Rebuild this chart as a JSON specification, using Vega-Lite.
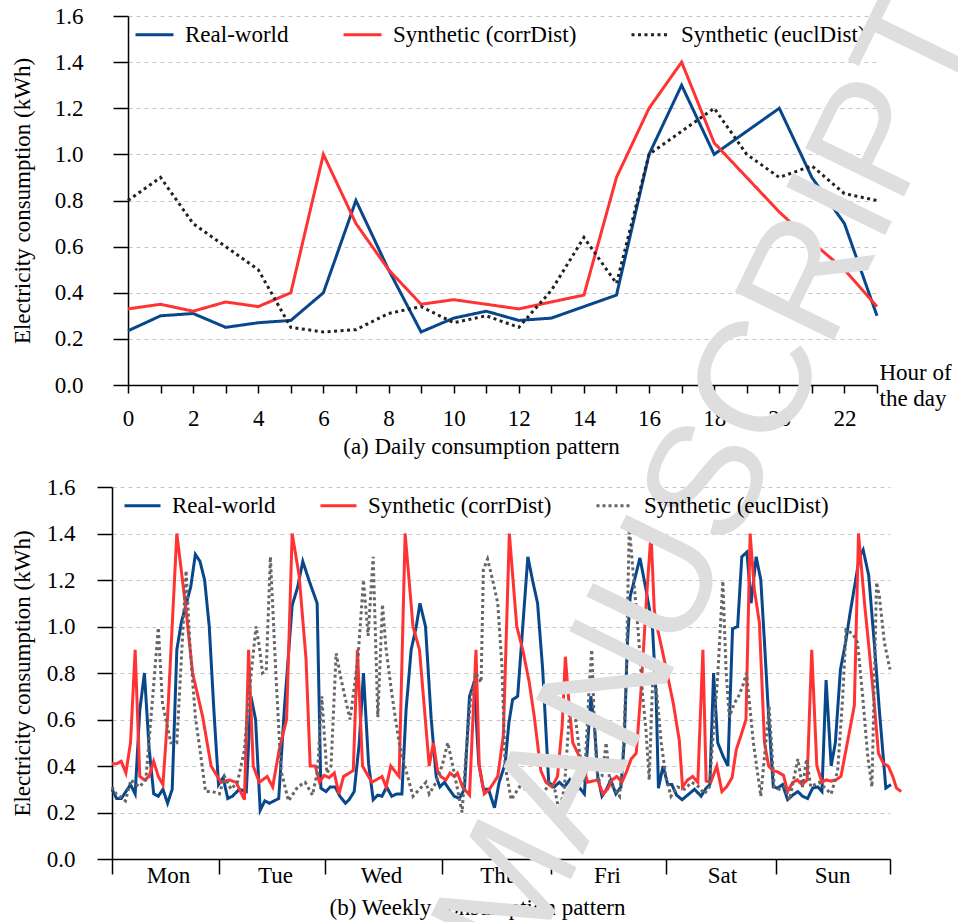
{
  "$schema": "https://vega.github.io/schema/vega-lite/v6.json",
  "background": "white",
  "padding": {"left": 11, "top": -32, "right": -58, "bottom": -67},
  "config": {
    "font": "Liberation Serif, Times New Roman, serif",
    "view": {"stroke": null},
    "axis": {"labelFont": "Liberation Serif, Times New Roman, serif", "labelFontSize": 23, "labelColor": "black", "titleFont": "Liberation Serif, Times New Roman, serif", "titleFontSize": 23, "titleFontWeight": "normal", "titleColor": "black", "domainColor": "black", "tickColor": "black", "domainWidth": 1.5, "tickWidth": 1.5},
    "legend": {"orient": "none", "direction": "horizontal", "title": null, "symbolType": "stroke", "symbolStrokeWidth": 3, "labelFont": "Liberation Serif, Times New Roman, serif", "labelFontSize": 23, "labelColor": "black", "labelOffset": 10, "labelLimit": 400},
    "title": {"font": "Liberation Serif, Times New Roman, serif", "fontSize": 23, "fontWeight": "normal", "color": "black"}
  },
  "datasets": {
    "daily": [
      {"series": "Real-world", "hour": 0, "kwh": 0.235}, {"series": "Real-world", "hour": 1, "kwh": 0.30}, {"series": "Real-world", "hour": 2, "kwh": 0.31}, {"series": "Real-world", "hour": 3, "kwh": 0.25}, {"series": "Real-world", "hour": 4, "kwh": 0.27}, {"series": "Real-world", "hour": 5, "kwh": 0.28}, {"series": "Real-world", "hour": 6, "kwh": 0.40}, {"series": "Real-world", "hour": 7, "kwh": 0.80}, {"series": "Real-world", "hour": 8, "kwh": 0.50}, {"series": "Real-world", "hour": 9, "kwh": 0.23}, {"series": "Real-world", "hour": 10, "kwh": 0.29}, {"series": "Real-world", "hour": 11, "kwh": 0.32}, {"series": "Real-world", "hour": 12, "kwh": 0.28}, {"series": "Real-world", "hour": 13, "kwh": 0.29}, {"series": "Real-world", "hour": 14, "kwh": 0.34}, {"series": "Real-world", "hour": 15, "kwh": 0.39}, {"series": "Real-world", "hour": 16, "kwh": 1.0}, {"series": "Real-world", "hour": 17, "kwh": 1.30}, {"series": "Real-world", "hour": 18, "kwh": 1.0}, {"series": "Real-world", "hour": 19, "kwh": 1.10}, {"series": "Real-world", "hour": 20, "kwh": 1.20}, {"series": "Real-world", "hour": 21, "kwh": 0.90}, {"series": "Real-world", "hour": 22, "kwh": 0.70}, {"series": "Real-world", "hour": 23, "kwh": 0.30},
      {"series": "Synthetic (corrDist)", "hour": 0, "kwh": 0.33}, {"series": "Synthetic (corrDist)", "hour": 1, "kwh": 0.35}, {"series": "Synthetic (corrDist)", "hour": 2, "kwh": 0.32}, {"series": "Synthetic (corrDist)", "hour": 3, "kwh": 0.36}, {"series": "Synthetic (corrDist)", "hour": 4, "kwh": 0.34}, {"series": "Synthetic (corrDist)", "hour": 5, "kwh": 0.40}, {"series": "Synthetic (corrDist)", "hour": 6, "kwh": 1.0}, {"series": "Synthetic (corrDist)", "hour": 7, "kwh": 0.70}, {"series": "Synthetic (corrDist)", "hour": 8, "kwh": 0.50}, {"series": "Synthetic (corrDist)", "hour": 9, "kwh": 0.35}, {"series": "Synthetic (corrDist)", "hour": 10, "kwh": 0.37}, {"series": "Synthetic (corrDist)", "hour": 11, "kwh": 0.35}, {"series": "Synthetic (corrDist)", "hour": 12, "kwh": 0.33}, {"series": "Synthetic (corrDist)", "hour": 13, "kwh": 0.36}, {"series": "Synthetic (corrDist)", "hour": 14, "kwh": 0.39}, {"series": "Synthetic (corrDist)", "hour": 15, "kwh": 0.90}, {"series": "Synthetic (corrDist)", "hour": 16, "kwh": 1.20}, {"series": "Synthetic (corrDist)", "hour": 17, "kwh": 1.40}, {"series": "Synthetic (corrDist)", "hour": 18, "kwh": 1.05}, {"series": "Synthetic (corrDist)", "hour": 19, "kwh": 0.90}, {"series": "Synthetic (corrDist)", "hour": 20, "kwh": 0.75}, {"series": "Synthetic (corrDist)", "hour": 21, "kwh": 0.62}, {"series": "Synthetic (corrDist)", "hour": 22, "kwh": 0.50}, {"series": "Synthetic (corrDist)", "hour": 23, "kwh": 0.34},
      {"series": "Synthetic (euclDist)", "hour": 0, "kwh": 0.80}, {"series": "Synthetic (euclDist)", "hour": 1, "kwh": 0.90}, {"series": "Synthetic (euclDist)", "hour": 2, "kwh": 0.70}, {"series": "Synthetic (euclDist)", "hour": 3, "kwh": 0.60}, {"series": "Synthetic (euclDist)", "hour": 4, "kwh": 0.50}, {"series": "Synthetic (euclDist)", "hour": 5, "kwh": 0.25}, {"series": "Synthetic (euclDist)", "hour": 6, "kwh": 0.23}, {"series": "Synthetic (euclDist)", "hour": 7, "kwh": 0.24}, {"series": "Synthetic (euclDist)", "hour": 8, "kwh": 0.31}, {"series": "Synthetic (euclDist)", "hour": 9, "kwh": 0.34}, {"series": "Synthetic (euclDist)", "hour": 10, "kwh": 0.27}, {"series": "Synthetic (euclDist)", "hour": 11, "kwh": 0.30}, {"series": "Synthetic (euclDist)", "hour": 12, "kwh": 0.25}, {"series": "Synthetic (euclDist)", "hour": 13, "kwh": 0.41}, {"series": "Synthetic (euclDist)", "hour": 14, "kwh": 0.64}, {"series": "Synthetic (euclDist)", "hour": 15, "kwh": 0.44}, {"series": "Synthetic (euclDist)", "hour": 16, "kwh": 1.0}, {"series": "Synthetic (euclDist)", "hour": 17, "kwh": 1.10}, {"series": "Synthetic (euclDist)", "hour": 18, "kwh": 1.20}, {"series": "Synthetic (euclDist)", "hour": 19, "kwh": 1.0}, {"series": "Synthetic (euclDist)", "hour": 20, "kwh": 0.90}, {"series": "Synthetic (euclDist)", "hour": 21, "kwh": 0.95}, {"series": "Synthetic (euclDist)", "hour": 22, "kwh": 0.83}, {"series": "Synthetic (euclDist)", "hour": 23, "kwh": 0.80}
    ],
    "weekly": [
      {"series": "Real-world", "hour": 0, "kwh": 0.30}, {"series": "Real-world", "hour": 1, "kwh": 0.26}, {"series": "Real-world", "hour": 2, "kwh": 0.26}, {"series": "Real-world", "hour": 4, "kwh": 0.32}, {"series": "Real-world", "hour": 5, "kwh": 0.28}, {"series": "Real-world", "hour": 6, "kwh": 0.64}, {"series": "Real-world", "hour": 7, "kwh": 0.80}, {"series": "Real-world", "hour": 8, "kwh": 0.48}, {"series": "Real-world", "hour": 9, "kwh": 0.28}, {"series": "Real-world", "hour": 10, "kwh": 0.27}, {"series": "Real-world", "hour": 11, "kwh": 0.30}, {"series": "Real-world", "hour": 12, "kwh": 0.24}, {"series": "Real-world", "hour": 13, "kwh": 0.30}, {"series": "Real-world", "hour": 14, "kwh": 0.90}, {"series": "Real-world", "hour": 15, "kwh": 1.02}, {"series": "Real-world", "hour": 17, "kwh": 1.17}, {"series": "Real-world", "hour": 18, "kwh": 1.31}, {"series": "Real-world", "hour": 19, "kwh": 1.28}, {"series": "Real-world", "hour": 20, "kwh": 1.20}, {"series": "Real-world", "hour": 21, "kwh": 1.00}, {"series": "Real-world", "hour": 22, "kwh": 0.64}, {"series": "Real-world", "hour": 23, "kwh": 0.32}, {"series": "Real-world", "hour": 24, "kwh": 0.35}, {"series": "Real-world", "hour": 25, "kwh": 0.26}, {"series": "Real-world", "hour": 26, "kwh": 0.27}, {"series": "Real-world", "hour": 27.5, "kwh": 0.30}, {"series": "Real-world", "hour": 29, "kwh": 0.29}, {"series": "Real-world", "hour": 30, "kwh": 0.70}, {"series": "Real-world", "hour": 31, "kwh": 0.60}, {"series": "Real-world", "hour": 32, "kwh": 0.21}, {"series": "Real-world", "hour": 33, "kwh": 0.25}, {"series": "Real-world", "hour": 34, "kwh": 0.24}, {"series": "Real-world", "hour": 36, "kwh": 0.26}, {"series": "Real-world", "hour": 37.2, "kwh": 0.64}, {"series": "Real-world", "hour": 38.9, "kwh": 1.09}, {"series": "Real-world", "hour": 40.1, "kwh": 1.17}, {"series": "Real-world", "hour": 41.2, "kwh": 1.28}, {"series": "Real-world", "hour": 42.6, "kwh": 1.195}, {"series": "Real-world", "hour": 44.3, "kwh": 1.10}, {"series": "Real-world", "hour": 45.1, "kwh": 0.305}, {"series": "Real-world", "hour": 46.2, "kwh": 0.29}, {"series": "Real-world", "hour": 47.1, "kwh": 0.31}, {"series": "Real-world", "hour": 48.2, "kwh": 0.31}, {"series": "Real-world", "hour": 49.2, "kwh": 0.27}, {"series": "Real-world", "hour": 50.4, "kwh": 0.24}, {"series": "Real-world", "hour": 51.2, "kwh": 0.255}, {"series": "Real-world", "hour": 52.3, "kwh": 0.29}, {"series": "Real-world", "hour": 53.4, "kwh": 0.50}, {"series": "Real-world", "hour": 54.3, "kwh": 0.80}, {"series": "Real-world", "hour": 55.4, "kwh": 0.41}, {"series": "Real-world", "hour": 56.4, "kwh": 0.255}, {"series": "Real-world", "hour": 57.4, "kwh": 0.275}, {"series": "Real-world", "hour": 58.3, "kwh": 0.27}, {"series": "Real-world", "hour": 59.3, "kwh": 0.31}, {"series": "Real-world", "hour": 60.4, "kwh": 0.27}, {"series": "Real-world", "hour": 61.5, "kwh": 0.28}, {"series": "Real-world", "hour": 62.6, "kwh": 0.28}, {"series": "Real-world", "hour": 63.5, "kwh": 0.64}, {"series": "Real-world", "hour": 64.6, "kwh": 0.90}, {"series": "Real-world", "hour": 65.7, "kwh": 1.0}, {"series": "Real-world", "hour": 66.5, "kwh": 1.10}, {"series": "Real-world", "hour": 67.7, "kwh": 1.0}, {"series": "Real-world", "hour": 68.9, "kwh": 0.61}, {"series": "Real-world", "hour": 70, "kwh": 0.355}, {"series": "Real-world", "hour": 70.8, "kwh": 0.31}, {"series": "Real-world", "hour": 71.8, "kwh": 0.33}, {"series": "Real-world", "hour": 72.8, "kwh": 0.30}, {"series": "Real-world", "hour": 73.9, "kwh": 0.27}, {"series": "Real-world", "hour": 75, "kwh": 0.26}, {"series": "Real-world", "hour": 76.1, "kwh": 0.30}, {"series": "Real-world", "hour": 77.2, "kwh": 0.70}, {"series": "Real-world", "hour": 78.2, "kwh": 0.76}, {"series": "Real-world", "hour": 79.2, "kwh": 0.41}, {"series": "Real-world", "hour": 80.2, "kwh": 0.30}, {"series": "Real-world", "hour": 81.3, "kwh": 0.30}, {"series": "Real-world", "hour": 82.6, "kwh": 0.22}, {"series": "Real-world", "hour": 83.6, "kwh": 0.33}, {"series": "Real-world", "hour": 84.9, "kwh": 0.41}, {"series": "Real-world", "hour": 85.7, "kwh": 0.585}, {"series": "Real-world", "hour": 86.5, "kwh": 0.685}, {"series": "Real-world", "hour": 87.6, "kwh": 0.70}, {"series": "Real-world", "hour": 88.7, "kwh": 1.0}, {"series": "Real-world", "hour": 89.8, "kwh": 1.30}, {"series": "Real-world", "hour": 90.8, "kwh": 1.20}, {"series": "Real-world", "hour": 91.9, "kwh": 1.10}, {"series": "Real-world", "hour": 93, "kwh": 0.815}, {"series": "Real-world", "hour": 94.3, "kwh": 0.33}, {"series": "Real-world", "hour": 95.5, "kwh": 0.31}, {"series": "Real-world", "hour": 96.6, "kwh": 0.33}, {"series": "Real-world", "hour": 97.7, "kwh": 0.31}, {"series": "Real-world", "hour": 98.8, "kwh": 0.34}, {"series": "Real-world", "hour": 99.8, "kwh": 0.28}, {"series": "Real-world", "hour": 100.8, "kwh": 0.31}, {"series": "Real-world", "hour": 102, "kwh": 0.28}, {"series": "Real-world", "hour": 103.4, "kwh": 0.70}, {"series": "Real-world", "hour": 104.2, "kwh": 0.57}, {"series": "Real-world", "hour": 104.9, "kwh": 0.355}, {"series": "Real-world", "hour": 105.8, "kwh": 0.27}, {"series": "Real-world", "hour": 106.8, "kwh": 0.30}, {"series": "Real-world", "hour": 107.7, "kwh": 0.34}, {"series": "Real-world", "hour": 108.8, "kwh": 0.28}, {"series": "Real-world", "hour": 109.9, "kwh": 0.31}, {"series": "Real-world", "hour": 110.6, "kwh": 0.50}, {"series": "Real-world", "hour": 111.3, "kwh": 0.93}, {"series": "Real-world", "hour": 111.9, "kwh": 1.13}, {"series": "Real-world", "hour": 113.2, "kwh": 1.23}, {"series": "Real-world", "hour": 114, "kwh": 1.295}, {"series": "Real-world", "hour": 115.3, "kwh": 1.16}, {"series": "Real-world", "hour": 116.7, "kwh": 1.0}, {"series": "Real-world", "hour": 117.5, "kwh": 0.70}, {"series": "Real-world", "hour": 118, "kwh": 0.305}, {"series": "Real-world", "hour": 119, "kwh": 0.40}, {"series": "Real-world", "hour": 120, "kwh": 0.32}, {"series": "Real-world", "hour": 120.9, "kwh": 0.32}, {"series": "Real-world", "hour": 121.9, "kwh": 0.275}, {"series": "Real-world", "hour": 123.1, "kwh": 0.255}, {"series": "Real-world", "hour": 124.3, "kwh": 0.275}, {"series": "Real-world", "hour": 125.8, "kwh": 0.30}, {"series": "Real-world", "hour": 127.2, "kwh": 0.27}, {"series": "Real-world", "hour": 128.3, "kwh": 0.305}, {"series": "Real-world", "hour": 129.1, "kwh": 0.32}, {"series": "Real-world", "hour": 129.9, "kwh": 0.80}, {"series": "Real-world", "hour": 130.8, "kwh": 0.50}, {"series": "Real-world", "hour": 132, "kwh": 0.44}, {"series": "Real-world", "hour": 133, "kwh": 0.40}, {"series": "Real-world", "hour": 134, "kwh": 0.99}, {"series": "Real-world", "hour": 135.1, "kwh": 1.0}, {"series": "Real-world", "hour": 136, "kwh": 1.30}, {"series": "Real-world", "hour": 137.1, "kwh": 1.32}, {"series": "Real-world", "hour": 138, "kwh": 1.10}, {"series": "Real-world", "hour": 139.1, "kwh": 1.30}, {"series": "Real-world", "hour": 140.1, "kwh": 1.20}, {"series": "Real-world", "hour": 140.9, "kwh": 0.93}, {"series": "Real-world", "hour": 141.8, "kwh": 0.61}, {"series": "Real-world", "hour": 142.8, "kwh": 0.31}, {"series": "Real-world", "hour": 143.7, "kwh": 0.305}, {"series": "Real-world", "hour": 144.8, "kwh": 0.32}, {"series": "Real-world", "hour": 145.9, "kwh": 0.255}, {"series": "Real-world", "hour": 147, "kwh": 0.275}, {"series": "Real-world", "hour": 148.1, "kwh": 0.29}, {"series": "Real-world", "hour": 149.1, "kwh": 0.27}, {"series": "Real-world", "hour": 150.2, "kwh": 0.26}, {"series": "Real-world", "hour": 151.3, "kwh": 0.305}, {"series": "Real-world", "hour": 152.4, "kwh": 0.31}, {"series": "Real-world", "hour": 153.3, "kwh": 0.29}, {"series": "Real-world", "hour": 154.2, "kwh": 0.77}, {"series": "Real-world", "hour": 155.3, "kwh": 0.40}, {"series": "Real-world", "hour": 156.2, "kwh": 0.50}, {"series": "Real-world", "hour": 157.3, "kwh": 0.815}, {"series": "Real-world", "hour": 158.4, "kwh": 0.93}, {"series": "Real-world", "hour": 159.4, "kwh": 1.06}, {"series": "Real-world", "hour": 160.5, "kwh": 1.19}, {"series": "Real-world", "hour": 161.4, "kwh": 1.30}, {"series": "Real-world", "hour": 162.2, "kwh": 1.33}, {"series": "Real-world", "hour": 163.4, "kwh": 1.22}, {"series": "Real-world", "hour": 164.6, "kwh": 0.93}, {"series": "Real-world", "hour": 165.7, "kwh": 0.64}, {"series": "Real-world", "hour": 167.1, "kwh": 0.305}, {"series": "Real-world", "hour": 168.2, "kwh": 0.32},
      {"series": "Synthetic (corrDist)", "hour": 0, "kwh": 0.41}, {"series": "Synthetic (corrDist)", "hour": 1, "kwh": 0.41}, {"series": "Synthetic (corrDist)", "hour": 2, "kwh": 0.42}, {"series": "Synthetic (corrDist)", "hour": 3, "kwh": 0.37}, {"series": "Synthetic (corrDist)", "hour": 4, "kwh": 0.50}, {"series": "Synthetic (corrDist)", "hour": 5, "kwh": 0.90}, {"series": "Synthetic (corrDist)", "hour": 6, "kwh": 0.355}, {"series": "Synthetic (corrDist)", "hour": 7, "kwh": 0.34}, {"series": "Synthetic (corrDist)", "hour": 8, "kwh": 0.355}, {"series": "Synthetic (corrDist)", "hour": 9, "kwh": 0.42}, {"series": "Synthetic (corrDist)", "hour": 10, "kwh": 0.355}, {"series": "Synthetic (corrDist)", "hour": 11, "kwh": 0.32}, {"series": "Synthetic (corrDist)", "hour": 12, "kwh": 0.61}, {"series": "Synthetic (corrDist)", "hour": 14, "kwh": 1.40}, {"series": "Synthetic (corrDist)", "hour": 16, "kwh": 1.07}, {"series": "Synthetic (corrDist)", "hour": 17.4, "kwh": 0.80}, {"series": "Synthetic (corrDist)", "hour": 19.6, "kwh": 0.61}, {"series": "Synthetic (corrDist)", "hour": 21.4, "kwh": 0.40}, {"series": "Synthetic (corrDist)", "hour": 23.5, "kwh": 0.33}, {"series": "Synthetic (corrDist)", "hour": 25.3, "kwh": 0.34}, {"series": "Synthetic (corrDist)", "hour": 26.8, "kwh": 0.33}, {"series": "Synthetic (corrDist)", "hour": 28.6, "kwh": 0.255}, {"series": "Synthetic (corrDist)", "hour": 29.5, "kwh": 0.90}, {"series": "Synthetic (corrDist)", "hour": 30.5, "kwh": 0.40}, {"series": "Synthetic (corrDist)", "hour": 31.8, "kwh": 0.33}, {"series": "Synthetic (corrDist)", "hour": 33.5, "kwh": 0.355}, {"series": "Synthetic (corrDist)", "hour": 34.7, "kwh": 0.31}, {"series": "Synthetic (corrDist)", "hour": 36.1, "kwh": 0.47}, {"series": "Synthetic (corrDist)", "hour": 37.7, "kwh": 0.60}, {"series": "Synthetic (corrDist)", "hour": 38.9, "kwh": 1.40}, {"series": "Synthetic (corrDist)", "hour": 40.4, "kwh": 1.22}, {"series": "Synthetic (corrDist)", "hour": 41.9, "kwh": 0.86}, {"series": "Synthetic (corrDist)", "hour": 42.8, "kwh": 0.40}, {"series": "Synthetic (corrDist)", "hour": 43.9, "kwh": 0.40}, {"series": "Synthetic (corrDist)", "hour": 44.8, "kwh": 0.33}, {"series": "Synthetic (corrDist)", "hour": 45.8, "kwh": 0.36}, {"series": "Synthetic (corrDist)", "hour": 46.9, "kwh": 0.35}, {"series": "Synthetic (corrDist)", "hour": 48, "kwh": 0.37}, {"series": "Synthetic (corrDist)", "hour": 49, "kwh": 0.28}, {"series": "Synthetic (corrDist)", "hour": 50, "kwh": 0.355}, {"series": "Synthetic (corrDist)", "hour": 52.1, "kwh": 0.38}, {"series": "Synthetic (corrDist)", "hour": 53, "kwh": 0.90}, {"series": "Synthetic (corrDist)", "hour": 54.1, "kwh": 0.40}, {"series": "Synthetic (corrDist)", "hour": 56.1, "kwh": 0.33}, {"series": "Synthetic (corrDist)", "hour": 58.3, "kwh": 0.355}, {"series": "Synthetic (corrDist)", "hour": 59.2, "kwh": 0.31}, {"series": "Synthetic (corrDist)", "hour": 60.2, "kwh": 0.40}, {"series": "Synthetic (corrDist)", "hour": 62, "kwh": 0.355}, {"series": "Synthetic (corrDist)", "hour": 63.3, "kwh": 1.40}, {"series": "Synthetic (corrDist)", "hour": 65, "kwh": 1.0}, {"series": "Synthetic (corrDist)", "hour": 66.4, "kwh": 0.90}, {"series": "Synthetic (corrDist)", "hour": 68.5, "kwh": 0.40}, {"series": "Synthetic (corrDist)", "hour": 69.4, "kwh": 0.50}, {"series": "Synthetic (corrDist)", "hour": 70.3, "kwh": 0.38}, {"series": "Synthetic (corrDist)", "hour": 71, "kwh": 0.355}, {"series": "Synthetic (corrDist)", "hour": 72.1, "kwh": 0.34}, {"series": "Synthetic (corrDist)", "hour": 73, "kwh": 0.37}, {"series": "Synthetic (corrDist)", "hour": 73.9, "kwh": 0.355}, {"series": "Synthetic (corrDist)", "hour": 74.6, "kwh": 0.37}, {"series": "Synthetic (corrDist)", "hour": 75.7, "kwh": 0.31}, {"series": "Synthetic (corrDist)", "hour": 77.2, "kwh": 0.275}, {"series": "Synthetic (corrDist)", "hour": 78.6, "kwh": 0.90}, {"series": "Synthetic (corrDist)", "hour": 79.3, "kwh": 0.40}, {"series": "Synthetic (corrDist)", "hour": 80.4, "kwh": 0.28}, {"series": "Synthetic (corrDist)", "hour": 81.5, "kwh": 0.30}, {"series": "Synthetic (corrDist)", "hour": 83.3, "kwh": 0.355}, {"series": "Synthetic (corrDist)", "hour": 84.5, "kwh": 0.53}, {"series": "Synthetic (corrDist)", "hour": 85.8, "kwh": 1.40}, {"series": "Synthetic (corrDist)", "hour": 87.4, "kwh": 1.0}, {"series": "Synthetic (corrDist)", "hour": 88.7, "kwh": 0.90}, {"series": "Synthetic (corrDist)", "hour": 90.1, "kwh": 0.76}, {"series": "Synthetic (corrDist)", "hour": 91.2, "kwh": 0.61}, {"series": "Synthetic (corrDist)", "hour": 92.6, "kwh": 0.38}, {"series": "Synthetic (corrDist)", "hour": 93.7, "kwh": 0.33}, {"series": "Synthetic (corrDist)", "hour": 95, "kwh": 0.31}, {"series": "Synthetic (corrDist)", "hour": 96.2, "kwh": 0.355}, {"series": "Synthetic (corrDist)", "hour": 97.2, "kwh": 0.57}, {"series": "Synthetic (corrDist)", "hour": 97.9, "kwh": 0.87}, {"series": "Synthetic (corrDist)", "hour": 98.8, "kwh": 0.64}, {"series": "Synthetic (corrDist)", "hour": 99.5, "kwh": 0.50}, {"series": "Synthetic (corrDist)", "hour": 100.6, "kwh": 0.455}, {"series": "Synthetic (corrDist)", "hour": 101.6, "kwh": 0.41}, {"series": "Synthetic (corrDist)", "hour": 102.7, "kwh": 0.33}, {"series": "Synthetic (corrDist)", "hour": 104.9, "kwh": 0.34}, {"series": "Synthetic (corrDist)", "hour": 106, "kwh": 0.28}, {"series": "Synthetic (corrDist)", "hour": 107, "kwh": 0.30}, {"series": "Synthetic (corrDist)", "hour": 108, "kwh": 0.34}, {"series": "Synthetic (corrDist)", "hour": 109, "kwh": 0.355}, {"series": "Synthetic (corrDist)", "hour": 110.1, "kwh": 0.33}, {"series": "Synthetic (corrDist)", "hour": 111, "kwh": 0.37}, {"series": "Synthetic (corrDist)", "hour": 112.1, "kwh": 0.43}, {"series": "Synthetic (corrDist)", "hour": 113.2, "kwh": 0.455}, {"series": "Synthetic (corrDist)", "hour": 114.2, "kwh": 0.715}, {"series": "Synthetic (corrDist)", "hour": 115.5, "kwh": 1.145}, {"series": "Synthetic (corrDist)", "hour": 116.4, "kwh": 1.40}, {"series": "Synthetic (corrDist)", "hour": 117.1, "kwh": 1.07}, {"series": "Synthetic (corrDist)", "hour": 117.8, "kwh": 0.99}, {"series": "Synthetic (corrDist)", "hour": 118.9, "kwh": 0.89}, {"series": "Synthetic (corrDist)", "hour": 121.2, "kwh": 0.67}, {"series": "Synthetic (corrDist)", "hour": 122.5, "kwh": 0.51}, {"series": "Synthetic (corrDist)", "hour": 123.2, "kwh": 0.31}, {"series": "Synthetic (corrDist)", "hour": 124.3, "kwh": 0.34}, {"series": "Synthetic (corrDist)", "hour": 125.4, "kwh": 0.355}, {"series": "Synthetic (corrDist)", "hour": 126.5, "kwh": 0.33}, {"series": "Synthetic (corrDist)", "hour": 127.6, "kwh": 0.90}, {"series": "Synthetic (corrDist)", "hour": 128.3, "kwh": 0.335}, {"series": "Synthetic (corrDist)", "hour": 129.3, "kwh": 0.33}, {"series": "Synthetic (corrDist)", "hour": 130.6, "kwh": 0.40}, {"series": "Synthetic (corrDist)", "hour": 131.7, "kwh": 0.29}, {"series": "Synthetic (corrDist)", "hour": 132.7, "kwh": 0.31}, {"series": "Synthetic (corrDist)", "hour": 133.9, "kwh": 0.35}, {"series": "Synthetic (corrDist)", "hour": 134.8, "kwh": 0.47}, {"series": "Synthetic (corrDist)", "hour": 135.8, "kwh": 0.53}, {"series": "Synthetic (corrDist)", "hour": 136.9, "kwh": 0.60}, {"series": "Synthetic (corrDist)", "hour": 137.8, "kwh": 1.40}, {"series": "Synthetic (corrDist)", "hour": 138.7, "kwh": 1.16}, {"series": "Synthetic (corrDist)", "hour": 139.8, "kwh": 1.015}, {"series": "Synthetic (corrDist)", "hour": 140.9, "kwh": 0.50}, {"series": "Synthetic (corrDist)", "hour": 141.8, "kwh": 0.40}, {"series": "Synthetic (corrDist)", "hour": 142.7, "kwh": 0.38}, {"series": "Synthetic (corrDist)", "hour": 143.7, "kwh": 0.375}, {"series": "Synthetic (corrDist)", "hour": 145, "kwh": 0.36}, {"series": "Synthetic (corrDist)", "hour": 145.9, "kwh": 0.29}, {"series": "Synthetic (corrDist)", "hour": 147, "kwh": 0.33}, {"series": "Synthetic (corrDist)", "hour": 148, "kwh": 0.34}, {"series": "Synthetic (corrDist)", "hour": 149, "kwh": 0.32}, {"series": "Synthetic (corrDist)", "hour": 150.1, "kwh": 0.34}, {"series": "Synthetic (corrDist)", "hour": 151.1, "kwh": 0.90}, {"series": "Synthetic (corrDist)", "hour": 152.2, "kwh": 0.40}, {"series": "Synthetic (corrDist)", "hour": 153.3, "kwh": 0.33}, {"series": "Synthetic (corrDist)", "hour": 154.2, "kwh": 0.34}, {"series": "Synthetic (corrDist)", "hour": 155.3, "kwh": 0.335}, {"series": "Synthetic (corrDist)", "hour": 156.3, "kwh": 0.34}, {"series": "Synthetic (corrDist)", "hour": 157.4, "kwh": 0.355}, {"series": "Synthetic (corrDist)", "hour": 158.5, "kwh": 0.47}, {"series": "Synthetic (corrDist)", "hour": 160.3, "kwh": 0.66}, {"series": "Synthetic (corrDist)", "hour": 161.2, "kwh": 1.40}, {"series": "Synthetic (corrDist)", "hour": 162.5, "kwh": 1.10}, {"series": "Synthetic (corrDist)", "hour": 163.5, "kwh": 0.90}, {"series": "Synthetic (corrDist)", "hour": 164.6, "kwh": 0.67}, {"series": "Synthetic (corrDist)", "hour": 165.5, "kwh": 0.455}, {"series": "Synthetic (corrDist)", "hour": 166.6, "kwh": 0.41}, {"series": "Synthetic (corrDist)", "hour": 167.6, "kwh": 0.40}, {"series": "Synthetic (corrDist)", "hour": 168.6, "kwh": 0.355}, {"series": "Synthetic (corrDist)", "hour": 169.4, "kwh": 0.305}, {"series": "Synthetic (corrDist)", "hour": 170.4, "kwh": 0.29},
      {"series": "Synthetic (euclDist)", "hour": 0, "kwh": 0.31}, {"series": "Synthetic (euclDist)", "hour": 0.9, "kwh": 0.28}, {"series": "Synthetic (euclDist)", "hour": 2.9, "kwh": 0.25}, {"series": "Synthetic (euclDist)", "hour": 4.1, "kwh": 0.34}, {"series": "Synthetic (euclDist)", "hour": 5.9, "kwh": 0.31}, {"series": "Synthetic (euclDist)", "hour": 7.3, "kwh": 0.34}, {"series": "Synthetic (euclDist)", "hour": 8.8, "kwh": 0.70}, {"series": "Synthetic (euclDist)", "hour": 10, "kwh": 0.995}, {"series": "Synthetic (euclDist)", "hour": 10.9, "kwh": 0.67}, {"series": "Synthetic (euclDist)", "hour": 12.7, "kwh": 0.50}, {"series": "Synthetic (euclDist)", "hour": 14, "kwh": 0.50}, {"series": "Synthetic (euclDist)", "hour": 16, "kwh": 1.24}, {"series": "Synthetic (euclDist)", "hour": 16.8, "kwh": 0.93}, {"series": "Synthetic (euclDist)", "hour": 18, "kwh": 0.61}, {"series": "Synthetic (euclDist)", "hour": 19.1, "kwh": 0.455}, {"series": "Synthetic (euclDist)", "hour": 20.2, "kwh": 0.29}, {"series": "Synthetic (euclDist)", "hour": 21.7, "kwh": 0.29}, {"series": "Synthetic (euclDist)", "hour": 23.2, "kwh": 0.28}, {"series": "Synthetic (euclDist)", "hour": 24.3, "kwh": 0.355}, {"series": "Synthetic (euclDist)", "hour": 25.7, "kwh": 0.30}, {"series": "Synthetic (euclDist)", "hour": 27.1, "kwh": 0.33}, {"series": "Synthetic (euclDist)", "hour": 28.6, "kwh": 0.47}, {"series": "Synthetic (euclDist)", "hour": 29.7, "kwh": 0.73}, {"series": "Synthetic (euclDist)", "hour": 31.1, "kwh": 1.0}, {"series": "Synthetic (euclDist)", "hour": 31.8, "kwh": 0.915}, {"series": "Synthetic (euclDist)", "hour": 32.5, "kwh": 0.80}, {"series": "Synthetic (euclDist)", "hour": 33.3, "kwh": 0.81}, {"series": "Synthetic (euclDist)", "hour": 34.2, "kwh": 1.30}, {"series": "Synthetic (euclDist)", "hour": 35.4, "kwh": 0.79}, {"series": "Synthetic (euclDist)", "hour": 36.5, "kwh": 0.38}, {"series": "Synthetic (euclDist)", "hour": 38.1, "kwh": 0.25}, {"series": "Synthetic (euclDist)", "hour": 40.1, "kwh": 0.31}, {"series": "Synthetic (euclDist)", "hour": 41.7, "kwh": 0.33}, {"series": "Synthetic (euclDist)", "hour": 43.3, "kwh": 0.275}, {"series": "Synthetic (euclDist)", "hour": 44.4, "kwh": 0.38}, {"series": "Synthetic (euclDist)", "hour": 45.3, "kwh": 0.70}, {"series": "Synthetic (euclDist)", "hour": 46.4, "kwh": 0.37}, {"series": "Synthetic (euclDist)", "hour": 47.3, "kwh": 0.40}, {"series": "Synthetic (euclDist)", "hour": 48.4, "kwh": 0.885}, {"series": "Synthetic (euclDist)", "hour": 49.5, "kwh": 0.77}, {"series": "Synthetic (euclDist)", "hour": 51.4, "kwh": 0.60}, {"series": "Synthetic (euclDist)", "hour": 53.1, "kwh": 0.86}, {"series": "Synthetic (euclDist)", "hour": 54.3, "kwh": 1.20}, {"series": "Synthetic (euclDist)", "hour": 55.3, "kwh": 0.96}, {"series": "Synthetic (euclDist)", "hour": 56.4, "kwh": 1.30}, {"series": "Synthetic (euclDist)", "hour": 57.4, "kwh": 0.61}, {"series": "Synthetic (euclDist)", "hour": 58.4, "kwh": 1.095}, {"series": "Synthetic (euclDist)", "hour": 59.2, "kwh": 0.90}, {"series": "Synthetic (euclDist)", "hour": 60.5, "kwh": 0.70}, {"series": "Synthetic (euclDist)", "hour": 62, "kwh": 0.50}, {"series": "Synthetic (euclDist)", "hour": 63.5, "kwh": 0.38}, {"series": "Synthetic (euclDist)", "hour": 65, "kwh": 0.27}, {"series": "Synthetic (euclDist)", "hour": 66.4, "kwh": 0.30}, {"series": "Synthetic (euclDist)", "hour": 67.8, "kwh": 0.33}, {"series": "Synthetic (euclDist)", "hour": 68.5, "kwh": 0.28}, {"series": "Synthetic (euclDist)", "hour": 70, "kwh": 0.33}, {"series": "Synthetic (euclDist)", "hour": 71.4, "kwh": 0.41}, {"series": "Synthetic (euclDist)", "hour": 72.5, "kwh": 0.50}, {"series": "Synthetic (euclDist)", "hour": 73.6, "kwh": 0.40}, {"series": "Synthetic (euclDist)", "hour": 74.6, "kwh": 0.30}, {"series": "Synthetic (euclDist)", "hour": 75.6, "kwh": 0.20}, {"series": "Synthetic (euclDist)", "hour": 76.4, "kwh": 0.44}, {"series": "Synthetic (euclDist)", "hour": 77.5, "kwh": 0.70}, {"series": "Synthetic (euclDist)", "hour": 78.6, "kwh": 0.80}, {"series": "Synthetic (euclDist)", "hour": 79.7, "kwh": 0.76}, {"series": "Synthetic (euclDist)", "hour": 80.2, "kwh": 1.245}, {"series": "Synthetic (euclDist)", "hour": 81.1, "kwh": 1.29}, {"series": "Synthetic (euclDist)", "hour": 82.2, "kwh": 1.20}, {"series": "Synthetic (euclDist)", "hour": 83.3, "kwh": 1.10}, {"series": "Synthetic (euclDist)", "hour": 84.2, "kwh": 0.83}, {"series": "Synthetic (euclDist)", "hour": 84.9, "kwh": 0.40}, {"series": "Synthetic (euclDist)", "hour": 86.2, "kwh": 0.255}, {"series": "Synthetic (euclDist)", "hour": 88, "kwh": 0.31}, {"series": "Synthetic (euclDist)", "hour": 89.4, "kwh": 0.30}, {"series": "Synthetic (euclDist)", "hour": 90.8, "kwh": 0.33}, {"series": "Synthetic (euclDist)", "hour": 92.6, "kwh": 0.255}, {"series": "Synthetic (euclDist)", "hour": 94.4, "kwh": 0.33}, {"series": "Synthetic (euclDist)", "hour": 95.5, "kwh": 0.31}, {"series": "Synthetic (euclDist)", "hour": 96.6, "kwh": 0.20}, {"series": "Synthetic (euclDist)", "hour": 97.7, "kwh": 0.31}, {"series": "Synthetic (euclDist)", "hour": 98.8, "kwh": 0.63}, {"series": "Synthetic (euclDist)", "hour": 99.8, "kwh": 0.655}, {"series": "Synthetic (euclDist)", "hour": 100.9, "kwh": 0.47}, {"series": "Synthetic (euclDist)", "hour": 102, "kwh": 0.33}, {"series": "Synthetic (euclDist)", "hour": 103.1, "kwh": 0.76}, {"series": "Synthetic (euclDist)", "hour": 103.6, "kwh": 0.90}, {"series": "Synthetic (euclDist)", "hour": 104.2, "kwh": 0.555}, {"series": "Synthetic (euclDist)", "hour": 104.9, "kwh": 0.33}, {"series": "Synthetic (euclDist)", "hour": 105.8, "kwh": 0.355}, {"series": "Synthetic (euclDist)", "hour": 106.7, "kwh": 0.50}, {"series": "Synthetic (euclDist)", "hour": 107.5, "kwh": 0.33}, {"series": "Synthetic (euclDist)", "hour": 108.5, "kwh": 0.30}, {"series": "Synthetic (euclDist)", "hour": 109.6, "kwh": 0.27}, {"series": "Synthetic (euclDist)", "hour": 110.3, "kwh": 0.43}, {"series": "Synthetic (euclDist)", "hour": 111, "kwh": 0.755}, {"series": "Synthetic (euclDist)", "hour": 111.7, "kwh": 1.43}, {"series": "Synthetic (euclDist)", "hour": 112.8, "kwh": 1.17}, {"series": "Synthetic (euclDist)", "hour": 113.7, "kwh": 0.96}, {"series": "Synthetic (euclDist)", "hour": 114.6, "kwh": 0.70}, {"series": "Synthetic (euclDist)", "hour": 115.3, "kwh": 0.555}, {"series": "Synthetic (euclDist)", "hour": 116, "kwh": 0.34}, {"series": "Synthetic (euclDist)", "hour": 116.8, "kwh": 0.80}, {"series": "Synthetic (euclDist)", "hour": 117.5, "kwh": 0.74}, {"series": "Synthetic (euclDist)", "hour": 118.6, "kwh": 0.50}, {"series": "Synthetic (euclDist)", "hour": 119.6, "kwh": 0.355}, {"series": "Synthetic (euclDist)", "hour": 120.7, "kwh": 0.27}, {"series": "Synthetic (euclDist)", "hour": 122.1, "kwh": 0.31}, {"series": "Synthetic (euclDist)", "hour": 123.6, "kwh": 0.30}, {"series": "Synthetic (euclDist)", "hour": 125.2, "kwh": 0.33}, {"series": "Synthetic (euclDist)", "hour": 126.7, "kwh": 0.31}, {"series": "Synthetic (euclDist)", "hour": 127.9, "kwh": 0.28}, {"series": "Synthetic (euclDist)", "hour": 129, "kwh": 0.31}, {"series": "Synthetic (euclDist)", "hour": 129.8, "kwh": 0.53}, {"series": "Synthetic (euclDist)", "hour": 130.8, "kwh": 0.785}, {"series": "Synthetic (euclDist)", "hour": 131.9, "kwh": 1.195}, {"series": "Synthetic (euclDist)", "hour": 132.6, "kwh": 0.81}, {"series": "Synthetic (euclDist)", "hour": 133.3, "kwh": 0.61}, {"series": "Synthetic (euclDist)", "hour": 134.4, "kwh": 0.67}, {"series": "Synthetic (euclDist)", "hour": 135.3, "kwh": 0.70}, {"series": "Synthetic (euclDist)", "hour": 136.3, "kwh": 0.75}, {"series": "Synthetic (euclDist)", "hour": 137, "kwh": 0.80}, {"series": "Synthetic (euclDist)", "hour": 138.5, "kwh": 0.50}, {"series": "Synthetic (euclDist)", "hour": 140.1, "kwh": 0.27}, {"series": "Synthetic (euclDist)", "hour": 141.9, "kwh": 0.655}, {"series": "Synthetic (euclDist)", "hour": 143, "kwh": 0.31}, {"series": "Synthetic (euclDist)", "hour": 144.1, "kwh": 0.30}, {"series": "Synthetic (euclDist)", "hour": 145.2, "kwh": 0.31}, {"series": "Synthetic (euclDist)", "hour": 146.3, "kwh": 0.255}, {"series": "Synthetic (euclDist)", "hour": 148.1, "kwh": 0.43}, {"series": "Synthetic (euclDist)", "hour": 149.1, "kwh": 0.31}, {"series": "Synthetic (euclDist)", "hour": 150, "kwh": 0.43}, {"series": "Synthetic (euclDist)", "hour": 150.9, "kwh": 0.31}, {"series": "Synthetic (euclDist)", "hour": 152.7, "kwh": 0.33}, {"series": "Synthetic (euclDist)", "hour": 155.3, "kwh": 0.28}, {"series": "Synthetic (euclDist)", "hour": 156.7, "kwh": 0.38}, {"series": "Synthetic (euclDist)", "hour": 157.8, "kwh": 0.70}, {"series": "Synthetic (euclDist)", "hour": 158.5, "kwh": 0.985}, {"series": "Synthetic (euclDist)", "hour": 159.9, "kwh": 0.97}, {"series": "Synthetic (euclDist)", "hour": 161, "kwh": 0.93}, {"series": "Synthetic (euclDist)", "hour": 162.1, "kwh": 0.70}, {"series": "Synthetic (euclDist)", "hour": 163.2, "kwh": 0.44}, {"series": "Synthetic (euclDist)", "hour": 164.1, "kwh": 0.31}, {"series": "Synthetic (euclDist)", "hour": 165.1, "kwh": 1.19}, {"series": "Synthetic (euclDist)", "hour": 165.7, "kwh": 1.13}, {"series": "Synthetic (euclDist)", "hour": 166.8, "kwh": 0.93}, {"series": "Synthetic (euclDist)", "hour": 168, "kwh": 0.815}
    ],
    "watermark": [{"label": "MANUSCRIPT", "hour": 179.8, "kwh": 3.68}]
  },
  "bounds": "flush",
  "spacing": 102,
  "resolve": {"scale": {"color": "independent", "strokeDash": "independent"}, "legend": {"color": "independent", "strokeDash": "independent"}},
  "vconcat": [
    {
      "width": 765,
      "height": 369,
      "title": {"text": "(a) Daily consumption pattern", "orient": "bottom", "anchor": "middle", "offset": 6, "dx": -13},
      "data": {"name": "daily"},
      "mark": {"type": "line", "strokeWidth": 3, "clip": false},
      "encoding": {
        "x": {"field": "hour", "type": "quantitative", "scale": {"domain": [0, 23], "range": [16, 765], "nice": false, "zero": false},
          "axis": {"values": [0,1,2,3,4,5,6,7,8,9,10,11,12,13,14,15,16,17,18,19,20,21,22,23], "labelExpr": "datum.value % 2 === 0 ? datum.label : ''", "tickSize": 8, "labelPadding": 14, "labelFlush": false, "labelOverlap": false, "grid": false,
            "title": ["Hour of", "the day"], "titleX": 767, "titleY": -13, "titleAlign": "left", "titleBaseline": "middle", "titleAngle": 0, "titleLineHeight": 26}},
        "y": {"field": "kwh", "type": "quantitative", "scale": {"domain": [0, 1.6], "nice": false},
          "axis": {"offset": -16, "values": [0, 0.2, 0.4, 0.6, 0.8, 1.0, 1.2, 1.4, 1.6], "format": ".1f", "tickSize": 15, "labelPadding": 30, "titlePadding": 20, "grid": true, "gridDash": [4, 4], "gridColor": "#c4c4c4", "gridWidth": 1, "title": "Electricity consumption (kWh)"}},
        "color": {"field": "series", "type": "nominal", "scale": {"domain": ["Real-world", "Synthetic (corrDist)", "Synthetic (euclDist)"], "range": ["#08478c", "#ff3333", "#222222"]},
          "legend": {"columnPadding": 48, "symbolSize": 1444, "legendX": 22, "legendY": -2}},
        "strokeDash": {"field": "series", "type": "nominal", "scale": {"domain": ["Real-world", "Synthetic (corrDist)", "Synthetic (euclDist)"], "range": [[1, 0], [1, 0], [3, 3.5]]},
          "legend": {"columnPadding": 48, "symbolSize": 1444, "legendX": 22, "legendY": -2}}
      }
    },
    {
      "width": 778,
      "height": 372,
      "layer": [
        {
          "data": {"name": "weekly"},
          "mark": {"type": "line", "strokeWidth": 3, "clip": false},
          "encoding": {
            "x": {"field": "hour", "type": "quantitative", "scale": {"domain": [0, 168], "nice": false, "zero": false},
              "axis": {"values": [0, 23.1, 46, 71.3, 94.8, 119.6, 143.4, 168], "labelExpr": "datum.value < 1 ? 'Mon' : datum.value < 30 ? 'Tue' : datum.value < 50 ? 'Wed' : datum.value < 80 ? 'Thu' : datum.value < 100 ? 'Fri' : datum.value < 130 ? 'Sat' : datum.value < 150 ? 'Sun' : ''", "tickSize": 15, "labelPadding": -10, "labelOffset": 56, "labelAlign": "center", "labelFlush": false, "labelOverlap": false, "labelBound": false, "grid": false,
                "title": "(b) Weekly consumption pattern", "titleX": 365, "titleY": 48, "titleAlign": "center", "titleBaseline": "middle", "titleAngle": 0}},
            "y": {"field": "kwh", "type": "quantitative", "scale": {"domain": [0, 1.6], "nice": false},
              "axis": {"values": [0, 0.2, 0.4, 0.6, 0.8, 1.0, 1.2, 1.4, 1.6], "format": ".1f", "tickSize": 15, "labelPadding": 22, "titlePadding": 12, "grid": true, "gridDash": [4, 4], "gridColor": "#c4c4c4", "gridWidth": 1, "title": "Electricity consumption (kWh)"}},
            "color": {"field": "series", "type": "nominal", "scale": {"domain": ["Real-world", "Synthetic (corrDist)", "Synthetic (euclDist)"], "range": ["#08478c", "#ff3333", "#666666"]},
              "legend": {"columnPadding": 38, "symbolSize": 1296, "legendX": 11, "legendY": -1}},
            "strokeDash": {"field": "series", "type": "nominal", "scale": {"domain": ["Real-world", "Synthetic (corrDist)", "Synthetic (euclDist)"], "range": [[1, 0], [1, 0], [3, 3]]},
              "legend": {"columnPadding": 38, "symbolSize": 1296, "legendX": 11, "legendY": -1}}
          }
        },
        {
          "data": {"name": "watermark"},
          "mark": {"type": "text", "angle": 296, "fontSize": 160, "font": "Liberation Sans", "color": "#dedede", "align": "right", "baseline": "middle", "clip": false},
          "encoding": {
            "x": {"field": "hour", "type": "quantitative"},
            "y": {"field": "kwh", "type": "quantitative"},
            "text": {"field": "label", "type": "nominal"}
          }
        }
      ]
    }
  ]
}
